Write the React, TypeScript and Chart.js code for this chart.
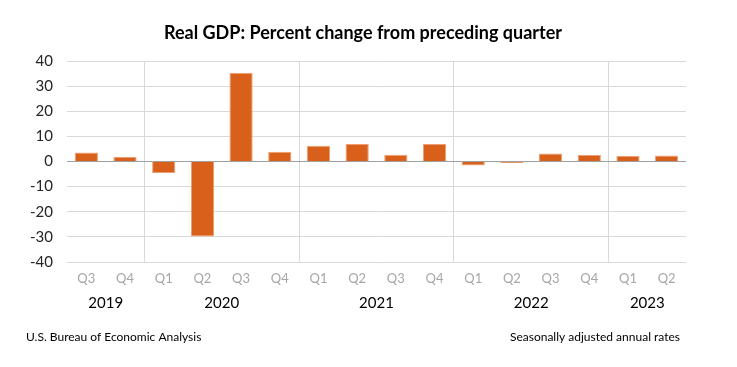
import React, { useEffect, useRef } from 'react';
import { Chart, registerables } from 'chart.js';

Chart.register(...registerables);

const quarterLabels = ['Q3', 'Q4', 'Q1', 'Q2', 'Q3', 'Q4', 'Q1', 'Q2', 'Q3', 'Q4', 'Q1', 'Q2', 'Q3', 'Q4', 'Q1', 'Q2'];
const yearOfQuarter = ['2019', '2019', '2020', '2020', '2020', '2020', '2021', '2021', '2021', '2021', '2022', '2022', '2022', '2022', '2023', '2023'];
const gdpChange = [3.6, 1.8, -4.6, -29.9, 35.3, 3.9, 6.3, 7.0, 2.7, 7.0, -1.6, -0.6, 3.2, 2.6, 2.2, 2.4];
const yMin = -40;
const yMax = 40;
const yStep = 10;

const titleText = 'Real GDP: Percent change from preceding quarter';
const sourceText = 'U.S. Bureau of Economic Analysis';
const noteText = 'Seasonally adjusted annual rates';

const FONT = 'Lato, "Open Sans", sans-serif';

const textPlugin = {
  id: 'titleYearFooter',
  afterDraw(chart: any) {
    const ctx = chart.ctx;
    const x = chart.scales.x;
    ctx.save();
    ctx.fillStyle = '#000';
    ctx.textBaseline = 'middle';
    ctx.textAlign = 'center';
    ctx.font = `bold 18px ${FONT}`;
    ctx.fillText(titleText, 363, 33);
    ctx.font = `15px ${FONT}`;
    const years: string[] = [];
    yearOfQuarter.forEach((y) => { if (!years.includes(y)) years.push(y); });
    years.forEach((yr) => {
      const first = yearOfQuarter.indexOf(yr);
      const last = yearOfQuarter.lastIndexOf(yr);
      const px = (x.getPixelForValue(first) + x.getPixelForValue(last)) / 2;
      ctx.fillText(yr, px, 303);
    });
    ctx.font = `12px ${FONT}`;
    ctx.textAlign = 'left';
    ctx.fillText(sourceText, 26, 337);
    ctx.textAlign = 'right';
    ctx.fillText(noteText, 680, 337);
    ctx.restore();
  },
};

export default function App() {
  const canvasRef = useRef<HTMLCanvasElement | null>(null);

  useEffect(() => {
    if (!canvasRef.current) return;
    const yearStarts = yearOfQuarter
      .map((y, i) => (i > 0 && yearOfQuarter[i - 1] !== y ? i : -1))
      .filter((i) => i >= 0);
    const chart = new Chart(canvasRef.current, {
      type: 'bar',
      data: {
        labels: quarterLabels,
        datasets: [
          {
            data: gdpChange,
            backgroundColor: '#D9601B',
            borderColor: '#EE9E72',
            borderWidth: 1,
            barPercentage: 0.6,
            categoryPercentage: 1,
          },
        ],
      },
      options: {
        responsive: false,
        animation: false,
        devicePixelRatio: 1,
        layout: { padding: { left: 22, right: 51, top: 61, bottom: 0 } },
        plugins: {
          legend: { display: false },
          tooltip: { enabled: false },
          title: { display: false },
        },
        scales: {
          x: {
            grid: {
              offset: true,
              drawTicks: false,
              lineWidth: 1,
              color: (c: any) => (yearStarts.includes(c.index) ? '#D9D9D9' : 'rgba(0,0,0,0)'),
            },
            border: { display: false },
            ticks: {
              color: '#A6A6A6',
              font: { family: FONT, size: 13 },
              padding: 9,
              maxRotation: 0,
              autoSkip: false,
            },
            afterFit: (scale: any) => { scale.height = 105; },
          },
          y: {
            min: yMin,
            max: yMax,
            grid: {
              drawTicks: false,
              lineWidth: 1,
              color: (c: any) => (c.tick && c.tick.value === 0 ? '#A0A0A0' : '#D9D9D9'),
            },
            border: { display: false },
            ticks: {
              stepSize: yStep,
              color: '#262626',
              font: { family: FONT, size: 15 },
              padding: 14,
            },
            afterFit: (scale: any) => { scale.width = 45; },
          },
        },
      },
      plugins: [textPlugin],
    });
    return () => chart.destroy();
  }, []);

  return (
    <div style={{ position: 'absolute', left: 0, top: 0, width: 737, height: 367, background: '#fff' }}>
      <canvas ref={canvasRef} width={737} height={367} style={{ display: 'block' }} />
    </div>
  );
}
